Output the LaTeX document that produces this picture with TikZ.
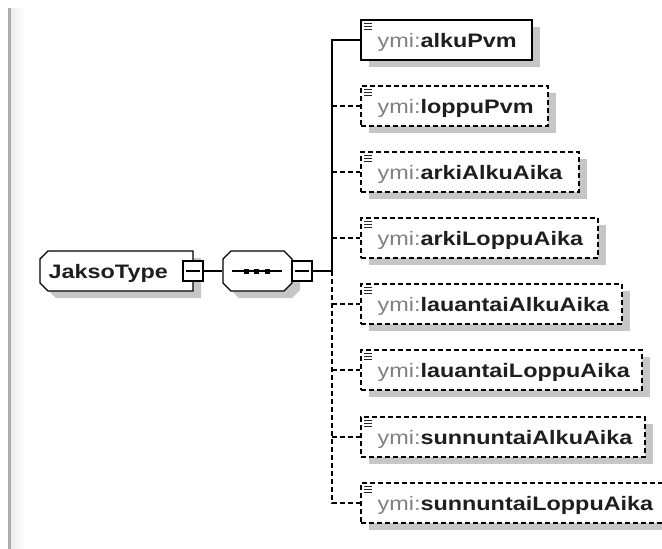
\documentclass[tikz,border=0pt]{standalone}
\usepackage{fontspec}
\setmainfont{Liberation Sans}
\newfontfamily\lblfont[FakeStretch=1.2]{Liberation Sans}
\definecolor{pfx}{RGB}{128,128,128}
\definecolor{nm}{RGB}{30,30,30}
\definecolor{shd}{RGB}{198,198,198}
\newcommand\xelem[5]{%
  \fill[shd] (369,#2-13) rectangle (#3+8,#2+27);
  \node[ebox,#5,minimum width={#3-361}] (#1) at ({(361+#3)/2},#2) {};
  \draw[icon] (364,#2-16.5) -- (372,#2-16.5) (364,#2-13.5) -- (372,#2-13.5) (364,#2-10.5) -- (372,#2-10.5);
  \node[lbl] (#1t) at (377,#2+7.3) {\textcolor{pfx}{ymi:}\textcolor{nm}{\bfseries #4}};
}
\begin{document}
\begin{tikzpicture}[x=1pt,y=-1pt,line width=1.3pt,
  ebox/.style={draw=black,fill=white,minimum height=40pt,inner sep=0pt},
  dsh/.style={dash pattern=on 5pt off 3pt},
  sld/.style={line width=1.6pt},
  icon/.style={line width=1.2pt,draw=black!85},
  lbl/.style={anchor=base west,inner sep=0pt,font=\lblfont\fontsize{19.5}{21}\selectfont},
  mbox/.style={draw=black,fill=white,minimum width=20pt,minimum height=20pt,inner sep=0pt}]
\useasboundingbox (0,0) rectangle (662,549);
\clip (0,0) rectangle (662,549);
% left margin line
\shade[left color=gray!14,right color=white] (10.5,8) rectangle (25,549);
\fill[gray!65] (8,8) rectangle (10.5,549);
% JaksoType
\fill[shd] (56,258) -- (201,258) -- (201,298) -- (56,298) -- (48,290) -- (48,266) -- cycle;
\draw[fill=white] (48,251) -- (193,251) -- (193,291) -- (48,291) -- (40,283) -- (40,259) -- cycle;
\node[lbl] (jt) at (48,278) {\textcolor{nm}{\bfseries JaksoType}};
\node[mbox] (m1) at (193,271) {};
\draw ([xshift=4pt]m1.west) -- ([xshift=-4pt]m1.east);
% sequence
\fill[shd] (239,258) -- (292,258) -- (300,266) -- (300,290) -- (292,298) -- (239,298) -- (231,290) -- (231,266) -- cycle;
\draw[fill=white] (231,251) -- (284,251) -- (292,259) -- (292,283) -- (284,291) -- (231,291) -- (223,283) -- (223,259) -- cycle;
\node[inner sep=0pt,minimum width=69pt,minimum height=40pt] (seq) at (257.5,271) {};
\draw (232,271) -- (282,271);
\fill (243.5,268.5) rectangle +(5,5);
\fill (254,268.5) rectangle +(5,5);
\fill (264.5,268.5) rectangle +(5,5);
\draw (m1.east) -- (seq.west);
\node[mbox] (m2) at (302,271) {};
\draw ([xshift=4pt]m2.west) -- ([xshift=-4pt]m2.east);
\coordinate (bus) at (332,271);
\draw (m2.east) -- (bus);
% elements
\xelem{e1}{40}{532}{alkuPvm}{sld}
\xelem{e2}{106}{548}{loppuPvm}{dsh}
\xelem{e3}{172}{579}{arkiAlkuAika}{dsh}
\xelem{e4}{238}{598}{arkiLoppuAika}{dsh}
\xelem{e5}{304}{622}{lauantaiAlkuAika}{dsh}
\xelem{e6}{370}{642}{lauantaiLoppuAika}{dsh}
\xelem{e7}{437}{645}{sunnuntaiAlkuAika}{dsh}
\xelem{e8}{503}{672}{sunnuntaiLoppuAika}{dsh}
% connectors
\draw[dsh] (bus) |- (e8.west);
\foreach \n in {e2,e3,e4,e5,e6,e7} {\draw[dsh] (\n.west -| bus) -- (\n.west);}
\draw (bus) |- (e1.west);
\end{tikzpicture}
\end{document}
